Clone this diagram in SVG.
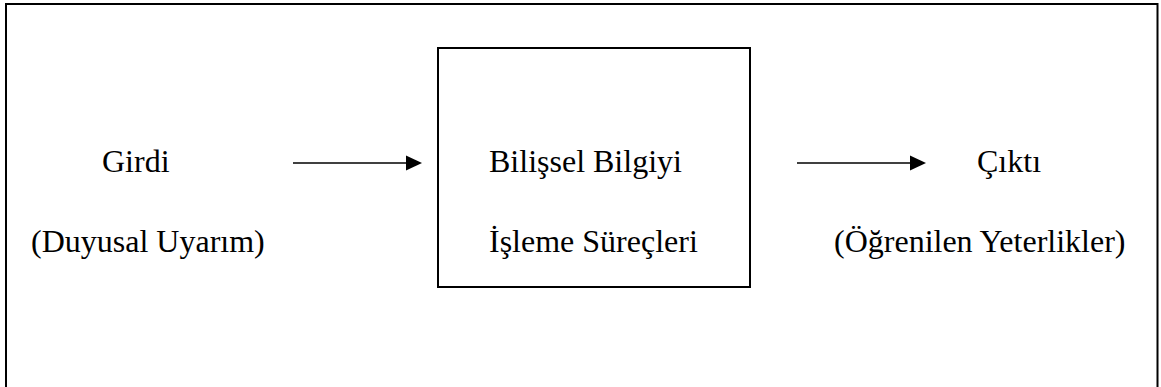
<svg xmlns="http://www.w3.org/2000/svg" width="1161" height="387" viewBox="0 0 1161 387">
<style>
text{font-family:"Liberation Serif","Times New Roman",serif;font-size:32px;fill:#000}
.frame{fill:none;stroke:#000;stroke-width:2}
.box{fill:none;stroke:#000;stroke-width:2}
.conn{stroke:#000;stroke-width:1.5;fill:none}
.head{fill:#000}
</style>
<rect fill="#fff" x="0" y="0" width="1161" height="387"/>
<path class="frame" d="M6,400 V4 H1157.5 V400"/>
<g id="input">
<text x="102" y="172">Girdi</text>
<text x="31" y="252">(Duyusal Uyarım)</text>
</g>
<g id="process">
<rect class="box" x="438" y="48" width="312" height="239"/>
<text x="489" y="172">Bilişsel Bilgiyi</text>
<text x="489" y="252">İşleme Süreçleri</text>
</g>
<g id="output">
<text x="977" y="172">Çıktı</text>
<text x="834" y="252">(Öğrenilen Yeterlikler)</text>
</g>
<g id="connectors">
<line class="conn" x1="293" y1="163" x2="408" y2="163"/>
<polygon class="head" points="406,155.5 422,163 406,170.5"/>
<line class="conn" x1="797" y1="163" x2="912" y2="163"/>
<polygon class="head" points="910,155.5 926,163 910,170.5"/>
</g>
</svg>
